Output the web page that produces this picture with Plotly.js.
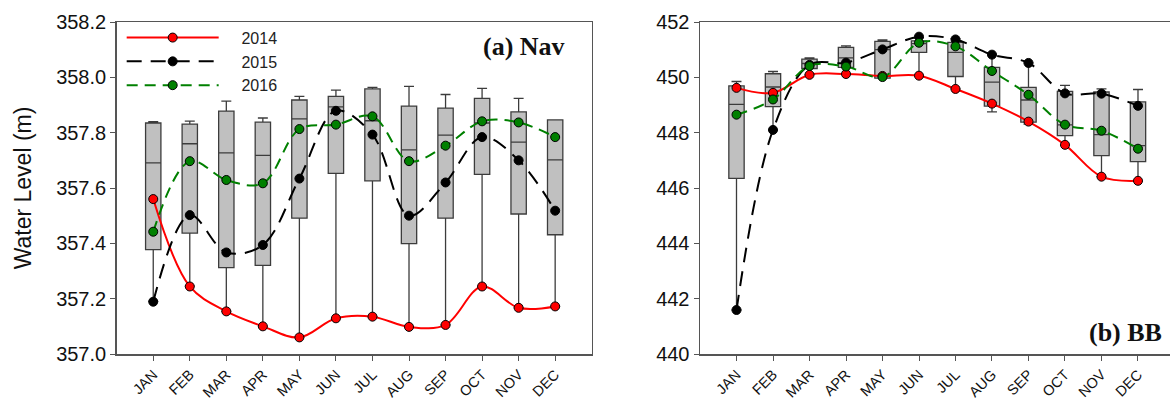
<!DOCTYPE html>
<html>
<head>
<meta charset="utf-8">
<script src="https://cdn.plot.ly/plotly-3.0.1.min.js"></script>
<style>html,body{margin:0;padding:0;background:#fff;}#chart{width:1170px;height:401px;}</style>
</head>
<body>
<div id="chart"></div>
<script>
const months = ['JAN','FEB','MAR','APR','MAY','JUN','JUL','AUG','SEP','OCT','NOV','DEC'];

// (a) Nav — box statistics
const navMin = [357.19, 357.245, 357.154, 357.100, 357.060, 357.129, 357.135, 357.098, 357.105, 357.244, 357.167, 357.172];
const navQ1  = [357.377, 357.437, 357.312, 357.320, 357.491, 357.653, 357.626, 357.399, 357.491, 357.649, 357.506, 357.431];
const navMed = [357.691, 357.760, 357.727, 357.718, 357.850, 357.893, 357.843, 357.738, 357.791, 357.835, 357.766, 357.702];
const navQ3  = [357.835, 357.831, 357.878, 357.838, 357.918, 357.931, 357.958, 357.896, 357.889, 357.924, 357.875, 357.846];
const navMax = [357.840, 357.842, 357.914, 357.853, 357.931, 357.954, 357.964, 357.967, 357.938, 357.960, 357.924, 357.846];
// (a) Nav — yearly series
const nav2014 = [357.560, 357.244, 357.154, 357.100, 357.060, 357.129, 357.135, 357.098, 357.105, 357.244, 357.167, 357.172];
const nav2015 = [357.189, 357.502, 357.367, 357.394, 357.634, 357.879, 357.793, 357.500, 357.620, 357.784, 357.700, 357.518];
const nav2016 = [357.442, 357.697, 357.629, 357.617, 357.813, 357.829, 357.859, 357.697, 357.753, 357.841, 357.837, 357.784];

// (b) BB — box statistics
const bbMin = [441.59, 448.10, 450.10, 450.12, 449.97, 450.06, 449.58, 448.75, 448.31, 447.56, 446.41, 446.26];
const bbQ1  = [446.35, 448.94, 450.32, 450.36, 449.97, 450.90, 450.03, 448.96, 448.38, 447.89, 447.17, 446.95];
const bbMed = [449.02, 449.65, 450.50, 450.70, 451.00, 451.22, 450.90, 449.83, 449.18, 448.28, 447.93, 447.53];
const bbQ3  = [449.69, 450.13, 450.66, 451.08, 451.30, 451.32, 451.26, 450.36, 449.64, 449.49, 449.47, 449.11];
const bbMax = [449.85, 450.21, 450.70, 451.14, 451.35, 451.44, 451.40, 450.82, 450.52, 449.71, 449.58, 449.56];
// (b) BB — yearly series
const bb2014 = [449.62, 449.44, 450.09, 450.12, 450.05, 450.06, 449.58, 449.05, 448.40, 447.56, 446.41, 446.26];
const bb2015 = [441.59, 448.10, 450.45, 450.53, 451.01, 451.47, 451.37, 450.82, 450.52, 449.42, 449.41, 448.97];
const bb2016 = [448.65, 449.20, 450.41, 450.39, 450.01, 451.25, 451.12, 450.23, 449.37, 448.29, 448.07, 447.42];

const years = ['2014','2015','2016'];
const yearColors = ['#ff0000','#000000','#008000'];
const yearDash = ['solid','15px,9px','11px,7px'];

function boxTrace(q1, med, q3, lo, hi, xa, ya){
  return {type:'box', x: months, q1: q1, median: med, q3: q3, lowerfence: lo, upperfence: hi,
    fillcolor:'#c0c0c0', line:{color:'#3c3c3c', width:1.3}, whiskerwidth:0.65,
    boxpoints:false, showlegend:false, hoverinfo:'skip', xaxis: xa, yaxis: ya};
}
function lineTrace(vals, i, xa, ya, showleg){
  return {type:'scatter', mode:'lines+markers', x: months, y: vals,
    name: '\u00a0\u00a0\u00a0\u00a0' + years[i],
    line:{color: yearColors[i], width:2, dash: yearDash[i], shape:'spline', smoothing:1},
    marker:{size:9, color: yearColors[i], line:{color:'#000', width:1}},
    showlegend: showleg, xaxis: xa, yaxis: ya, hoverinfo:'skip'};
}

const data = [
  boxTrace(navQ1, navMed, navQ3, navMin, navMax, 'x', 'y'),
  lineTrace(nav2014, 0, 'x', 'y', true),
  lineTrace(nav2015, 1, 'x', 'y', true),
  lineTrace(nav2016, 2, 'x', 'y', true),
  boxTrace(bbQ1, bbMed, bbQ3, bbMin, bbMax, 'x2', 'y2'),
  lineTrace(bb2014, 0, 'x2', 'y2', false),
  lineTrace(bb2015, 1, 'x2', 'y2', false),
  lineTrace(bb2016, 2, 'x2', 'y2', false)
];

const tickFont = {family:'Liberation Sans, Arial, sans-serif', size:20, color:'#111'};
const monthFont = {family:'Liberation Sans, Arial, sans-serif', size:14.5, color:'#111'};
const axisColor = '#555';

const layout = {
  width:1170, height:401,
  margin:{l:0, r:0, t:22, b:47},
  paper_bgcolor:'#fff', plot_bgcolor:'#fff',
  boxgap:0.4, boxmode:'overlay',
  showlegend:true,
  legend:{x:0.104, y:1.004, xanchor:'left', yanchor:'top', bgcolor:'rgba(0,0,0,0)',
    font:{family:'Liberation Sans, Arial, sans-serif', size:16, color:'#222'},
    itemwidth:92, tracegroupgap:0},
  xaxis:{domain:[116.7/1170, 591.7/1170], type:'category', range:[-1,12], anchor:'y',
    showline:true, linecolor:axisColor, linewidth:1.5, mirror:true,
    ticks:'outside', ticklen:5, tickcolor:axisColor, tickangle:-45, tickfont:monthFont,
    showgrid:false, zeroline:false, automargin:false},
  yaxis:{domain:[0,1], range:[357.0,358.2], dtick:0.2, tickformat:'.1f', anchor:'x',
    showline:true, linecolor:axisColor, linewidth:1.5, mirror:true,
    ticks:'outside', ticklen:5, tickcolor:axisColor, tickfont:tickFont,
    showgrid:false, zeroline:false, automargin:false,
    title:{text:'Water Level (m)', font:{family:'Liberation Sans, Arial, sans-serif', size:23, color:'#111'}, standoff:18}},
  xaxis2:{domain:[700/1170, 1], type:'category', range:[-1,11.877], anchor:'y2',
    showline:true, linecolor:axisColor, linewidth:1.5, mirror:true,
    ticks:'outside', ticklen:5, tickcolor:axisColor, tickangle:-45, tickfont:monthFont,
    showgrid:false, zeroline:false, automargin:false},
  yaxis2:{domain:[0,1], range:[440,452], dtick:2, anchor:'x2',
    showline:true, linecolor:axisColor, linewidth:1.5, mirror:false,
    ticks:'outside', ticklen:5, tickcolor:axisColor, tickfont:tickFont,
    showgrid:false, zeroline:false, automargin:false},
  annotations:[
    {text:'<b>(a) Nav</b>', xref:'paper', yref:'paper', x:566.7/1170, y:1-(46-22)/332,
     xanchor:'right', yanchor:'middle', showarrow:false,
     font:{family:'Liberation Serif, Times New Roman, serif', size:26, color:'#111'}},
    {text:'<b>(b) BB</b>', xref:'paper', yref:'paper', x:1164/1170, y:1-(332.5-22)/332,
     xanchor:'right', yanchor:'middle', showarrow:false,
     font:{family:'Liberation Serif, Times New Roman, serif', size:26, color:'#111'}}
  ]
};

Plotly.newPlot('chart', data, layout, {staticPlot:true, displayModeBar:false});
</script>
</body>
</html>
